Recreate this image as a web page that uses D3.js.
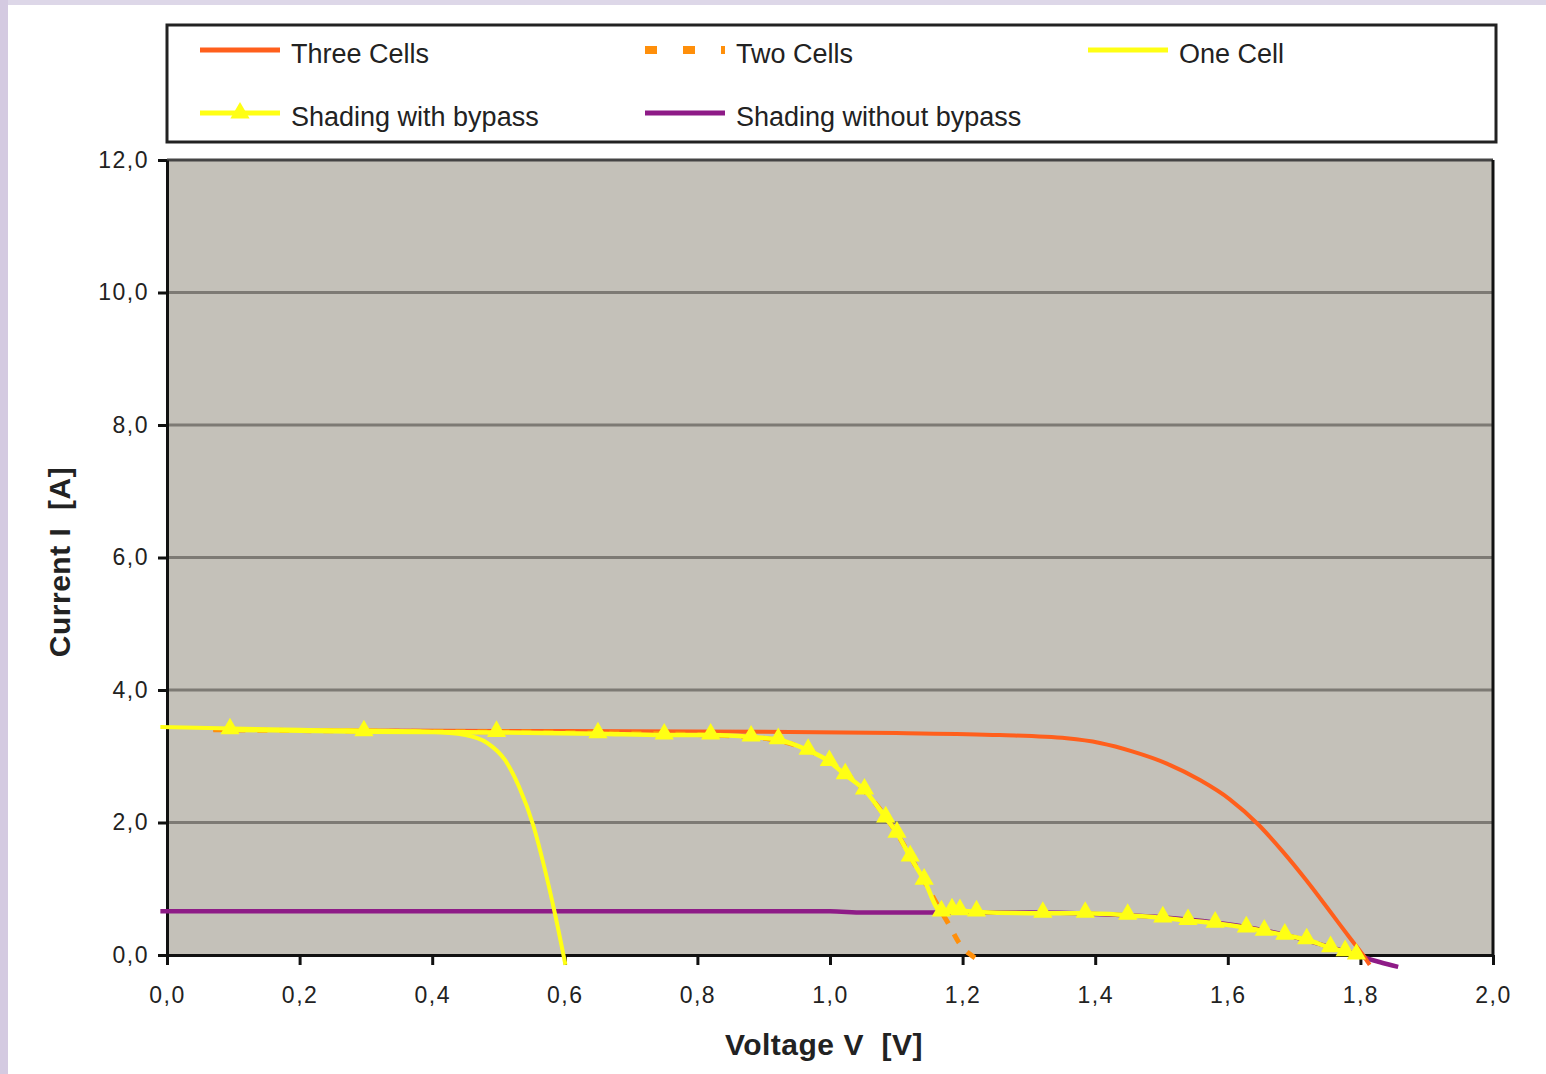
<!DOCTYPE html>
<html>
<head>
<meta charset="utf-8">
<script src="https://cdn.jsdelivr.net/npm/d3@7"></script>
<style>
  html, body { margin: 0; padding: 0; background: #fff; }
  svg { display: block; }
  text { white-space: pre; }
</style>
</head>
<body>
<svg id="chart"></svg>
<script>
// I-V curves, voltage V (x) vs current I (y)
var threeCellsV = [0.07, 0.3, 0.6, 0.9, 1.1, 1.256, 1.357, 1.407, 1.457, 1.508, 1.558, 1.603, 1.646, 1.683, 1.719, 1.754, 1.784, 1.804, 1.814];
var threeCellsI = [3.40, 3.39, 3.38, 3.37, 3.35, 3.32, 3.27, 3.20, 3.07, 2.89, 2.64, 2.35, 1.97, 1.56, 1.12, 0.66, 0.26, 0.0, -0.15];

var twoCellsV = [0.07, 0.3, 0.6, 0.85, 0.92, 0.97, 1.0, 1.05, 1.1, 1.14, 1.17, 1.18, 1.195, 1.21, 1.22];
var twoCellsI = [3.40, 3.38, 3.36, 3.31, 3.24, 3.08, 2.92, 2.5, 1.85, 1.15, 0.62, 0.45, 0.18, 0.02, -0.05];

var oneCellV = [-0.01, 0.2, 0.397, 0.45, 0.483, 0.51, 0.531, 0.553, 0.569, 0.585, 0.601];
var oneCellI = [3.44, 3.40, 3.37, 3.32, 3.2, 2.94, 2.54, 1.94, 1.33, 0.63, -0.15];

var bypassV = [0.095, 0.297, 0.497, 0.65, 0.75, 0.82, 0.881, 0.922, 0.967, 0.999, 1.023, 1.052, 1.084, 1.101, 1.121, 1.142, 1.168, 1.184, 1.196, 1.221, 1.321, 1.385, 1.449, 1.502, 1.54, 1.581, 1.628, 1.655, 1.686, 1.719, 1.755, 1.777, 1.794];
var bypassI = [3.40, 3.37, 3.36, 3.34, 3.32, 3.32, 3.29, 3.25, 3.09, 2.92, 2.72, 2.49, 2.07, 1.84, 1.48, 1.13, 0.65, 0.68, 0.67, 0.65, 0.63, 0.63, 0.60, 0.56, 0.52, 0.48, 0.41, 0.36, 0.30, 0.23, 0.11, 0.05, 0.0];

var noBypassV = [-0.01, 0.5, 1.0, 1.05, 1.3, 1.4, 1.5, 1.58, 1.64, 1.7, 1.75, 1.79, 1.81, 1.83, 1.857];
var noBypassI = [0.66, 0.66, 0.66, 0.64, 0.64, 0.62, 0.57, 0.49, 0.40, 0.27, 0.13, 0.02, -0.05, -0.11, -0.18];

var xTicks = [0, 0.2, 0.4, 0.6, 0.8, 1.0, 1.2, 1.4, 1.6, 1.8, 2.0];
var yTicks = [0, 2, 4, 6, 8, 10, 12];

var seriesNames = ["Three Cells", "Two Cells", "One Cell", "Shading with bypass", "Shading without bypass"];

var W = 1546, H = 1074;
var margin = { left: 167, right: 53, top: 160, bottom: 119 };
var FONT = "'Liberation Sans', Arial, sans-serif";

var svg = d3.select("#chart").attr("width", W).attr("height", H);

// lavender frame strips
svg.append("rect").attr("x", 0).attr("y", 0).attr("width", W).attr("height", 5).attr("fill", "#ddd7e8");
svg.append("rect").attr("x", 0).attr("y", 0).attr("width", 8).attr("height", H).attr("fill", "#d4cae1");

var x = d3.scaleLinear().domain([0, 2]).range([margin.left, W - margin.right]);
var y = d3.scaleLinear().domain([0, 12]).range([H - margin.bottom, margin.top]);

var fmt = function (d) { return d3.format(".1f")(d).replace(".", ","); };

// plot background
svg.append("rect")
    .attr("x", x(0)).attr("y", y(12))
    .attr("width", x(2) - x(0)).attr("height", y(0) - y(12))
    .attr("fill", "#c4c1b9");

// gridlines
svg.append("g").selectAll("line")
    .data(yTicks.filter(function (d) { return d > 0; }))
    .enter().append("line")
    .attr("x1", x(0)).attr("x2", x(2))
    .attr("y1", function (d) { return y(d); })
    .attr("y2", function (d) { return y(d); })
    .attr("stroke", function (d) { return d === 12 ? "#444" : "#7d7a74"; })
    .attr("stroke-width", 3);

// right border
svg.append("line")
    .attr("x1", x(2)).attr("x2", x(2)).attr("y1", y(12)).attr("y2", y(0))
    .attr("stroke", "#111").attr("stroke-width", 3);

// axes
var xAxis = svg.append("g")
    .attr("transform", "translate(0," + y(0) + ")")
    .call(d3.axisBottom(x).tickValues(xTicks).tickFormat(fmt).tickSize(10).tickSizeOuter(0).tickPadding(22));
var yAxis = svg.append("g")
    .attr("transform", "translate(" + x(0) + ",0)")
    .call(d3.axisLeft(y).tickValues(yTicks).tickFormat(fmt).tickSize(9).tickSizeOuter(0).tickPadding(9));

[xAxis, yAxis].forEach(function (g) {
    g.select(".domain").attr("stroke", "#111").attr("stroke-width", 3);
    g.selectAll(".tick line").attr("stroke", "#111").attr("stroke-width", 3);
    g.selectAll(".tick text")
        .attr("fill", "#222")
        .style("font-family", FONT)
        .style("font-size", "23px")
        .style("letter-spacing", "1.5px");
});

// curves
function pairs(vs, is) { return vs.map(function (v, i) { return [v, is[i]]; }); }

var noBypass = pairs(noBypassV, noBypassI);
var threeCells = pairs(threeCellsV, threeCellsI);
var twoCells = pairs(twoCellsV, twoCellsI);
var oneCell = pairs(oneCellV, oneCellI);
var bypass = pairs(bypassV, bypassI);

var curveLine = d3.line()
    .x(function (d) { return x(d[0]); })
    .y(function (d) { return y(d[1]); })
    .curve(d3.curveMonotoneX);

svg.append("path").datum(noBypass).attr("d", curveLine)
    .attr("fill", "none").attr("stroke", "#8e1b87").attr("stroke-width", 4.5);
svg.append("path").datum(threeCells).attr("d", curveLine)
    .attr("fill", "none").attr("stroke", "#ff5f1c").attr("stroke-width", 4);
svg.append("path").datum(twoCells).attr("d", curveLine)
    .attr("fill", "none").attr("stroke", "#ff8f0a").attr("stroke-width", 5)
    .attr("stroke-dasharray", "10,12");
svg.append("path").datum(oneCell).attr("d", curveLine)
    .attr("fill", "none").attr("stroke", "#ffff14").attr("stroke-width", 4);
svg.append("path").datum(bypass).attr("d", curveLine)
    .attr("fill", "none").attr("stroke", "#ffff14").attr("stroke-width", 4.5);

var tri = d3.symbol().type(d3.symbolTriangle).size(160);
svg.append("g").selectAll("path")
    .data(bypass)
    .enter().append("path")
    .attr("d", tri)
    .attr("transform", function (d) { return "translate(" + x(d[0]) + "," + (y(d[1]) - 1) + ")"; })
    .attr("fill", "#ffff14");

// axis titles
svg.append("text")
    .attr("x", 824).attr("y", 1055)
    .attr("text-anchor", "middle")
    .style("font-family", FONT)
    .style("font-size", "30px").style("font-weight", "bold")
    .style("letter-spacing", "0.5px")
    .attr("fill", "#222")
    .text("Voltage V  [V]");
svg.append("text")
    .attr("transform", "translate(70,562) rotate(-90)")
    .attr("text-anchor", "middle")
    .style("font-family", FONT)
    .style("font-size", "30px").style("font-weight", "bold")
    .style("letter-spacing", "0.5px")
    .attr("fill", "#222")
    .text("Current I  [A]");

// legend
svg.append("rect")
    .attr("x", 167).attr("y", 25).attr("width", 1329).attr("height", 117)
    .attr("fill", "#fff").attr("stroke", "#222").attr("stroke-width", 3);

var legendItems = [
    { name: seriesNames[0], lx: 200, ly: 50, color: "#ff5f1c", dash: null, marker: false },
    { name: seriesNames[1], lx: 645, ly: 50, color: "#ff8f0a", dash: "12,26", marker: false },
    { name: seriesNames[2], lx: 1088, ly: 50, color: "#ffff14", dash: null, marker: false },
    { name: seriesNames[3], lx: 200, ly: 113, color: "#ffff14", dash: null, marker: true },
    { name: seriesNames[4], lx: 645, ly: 113, color: "#8e1b87", dash: null, marker: false }
];

var lg = svg.append("g").selectAll("g").data(legendItems).enter().append("g");
lg.append("line")
    .attr("x1", function (d) { return d.lx; })
    .attr("x2", function (d) { return d.lx + 80; })
    .attr("y1", function (d) { return d.ly; })
    .attr("y2", function (d) { return d.ly; })
    .attr("stroke", function (d) { return d.color; })
    .attr("stroke-width", function (d) { return d.dash ? 8 : 5; })
    .attr("stroke-dasharray", function (d) { return d.dash; });
lg.filter(function (d) { return d.marker; }).append("path")
    .attr("d", tri)
    .attr("transform", function (d) { return "translate(" + (d.lx + 40) + "," + d.ly + ")"; })
    .attr("fill", function (d) { return d.color; });
lg.append("text")
    .attr("x", function (d) { return d.lx + 91; })
    .attr("y", function (d) { return d.ly + 13; })
    .style("font-family", FONT)
    .style("font-size", "27px")
    .attr("fill", "#222")
    .text(function (d) { return d.name; });
</script>
</body>
</html>
